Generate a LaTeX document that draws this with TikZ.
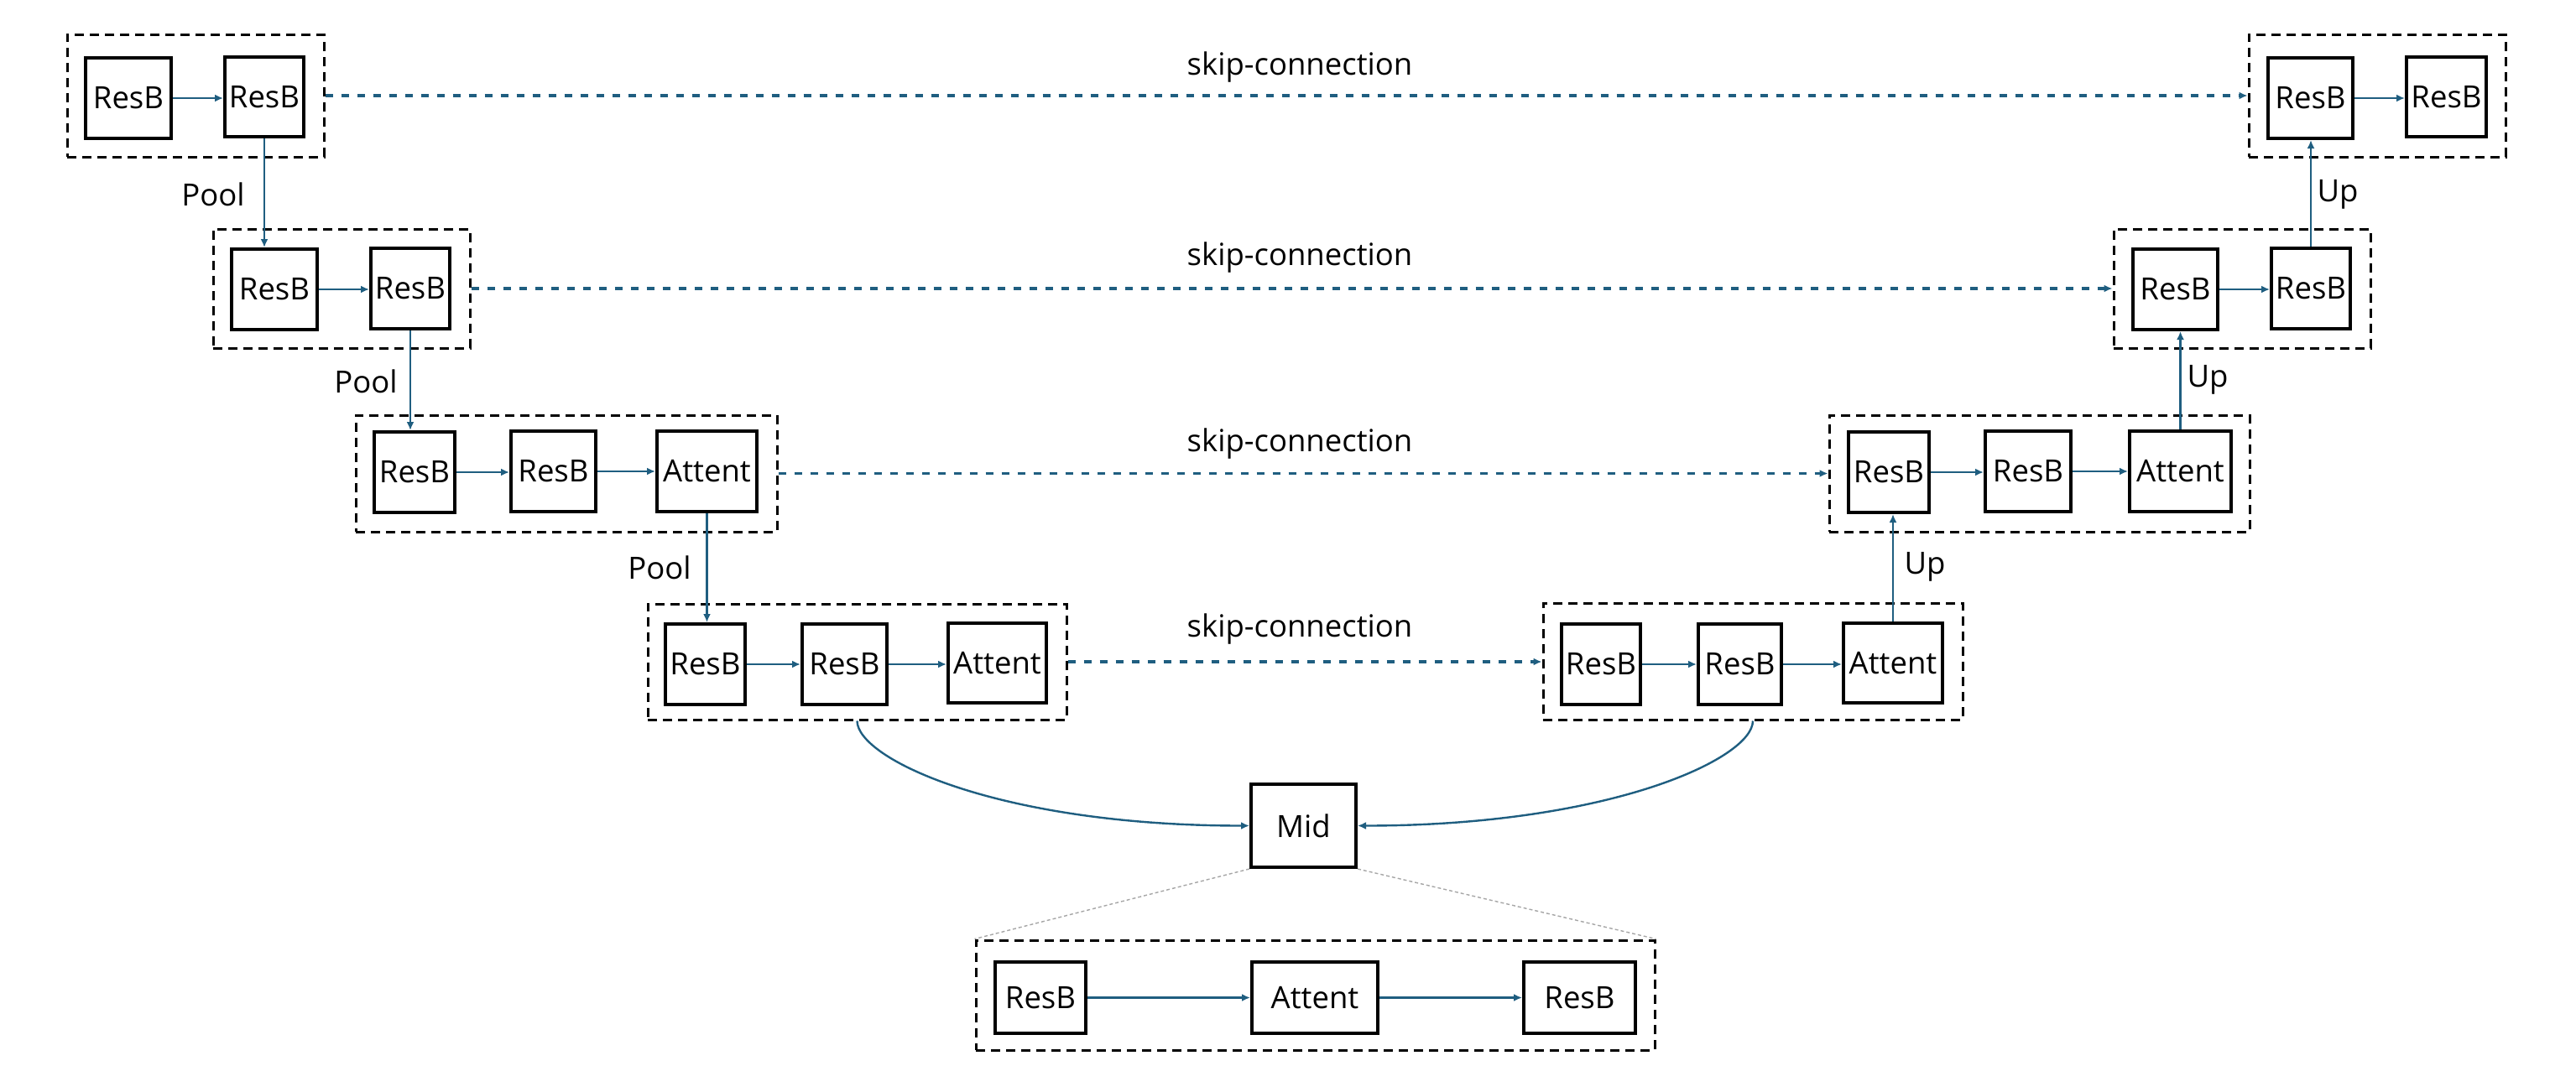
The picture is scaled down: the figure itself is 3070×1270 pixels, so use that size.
\documentclass[tikz,border=0pt]{standalone}
\usepackage{fontspec}
\setmainfont{Open Sans}
\usetikzlibrary{arrows.meta}
\definecolor{myblue}{RGB}{31,94,128}
\tikzset{
 blk/.style={draw=black, line width=2pt, inner sep=0pt, fill=white},
 grp/.style={draw=black, line width=1.5pt, dash pattern=on 5.5pt off 3.5pt, inner sep=0pt},
 arr/.style={draw=myblue, line width=1.2pt, -{Latex[length=5pt,width=4.5pt]}},
 arrb/.style={draw=myblue, line width=1.6pt, -{Latex[length=5pt,width=4.5pt]}},
 skip/.style={draw=myblue, line width=1.7pt, dash pattern=on 4.5pt off 5pt, -{Latex[length=5pt,width=4.5pt]}},
 lbl/.style={inner sep=0pt, anchor=base},
 zoomln/.style={draw=gray!70, line width=0.7pt, dash pattern=on 2pt off 1.5pt}
}
\newcommand{\placebox}[7]{%
  \pgfmathsetmacro\cx{(#3+#5)/2}\pgfmathsetmacro\cy{(#4+#6)/2}%
  \pgfmathsetmacro\ww{(#5-#3)*0.5}\pgfmathsetmacro\hh{(#6-#4)*0.5}%
  \node[#1, minimum width=\ww pt, minimum height=\hh pt] (#2) at (\cx,\cy) {#7};}
\newcommand{\bx}[6]{\placebox{blk}{#1}{#2}{#3}{#4}{#5}{#6}}
\newcommand{\gp}[5]{\placebox{grp}{#1}{#2}{#3}{#4}{#5}{}}
\begin{document}
\begin{tikzpicture}[x=0.5pt,y=-0.5pt,font=\fontsize{18.25}{22}\selectfont]
\useasboundingbox (0,0) rectangle (3070,1270);
% groups
\gp{L1}{80}{41}{386}{187}
\gp{L2}{254}{273}{560}{415}
\gp{L3}{424}{495}{926}{634}
\gp{L4}{772}{720}{1271}{858}
\gp{R1}{2680}{41}{2986}{187}
\gp{R2}{2519}{273}{2825}{415}
\gp{R3}{2180}{495}{2681}{634}
\gp{R4}{1839}{719}{2339}{858}
\gp{B}{1163}{1121}{1972}{1252}
% blocks
\bx{a1}{102}{69}{204}{165}{ResB}
\bx{a2}{268}{68}{362}{163}{ResB}
\bx{b1}{276}{297}{378}{393}{ResB}
\bx{b2}{442}{296}{536}{392}{ResB}
\bx{c1}{446}{515}{542}{611}{ResB}
\bx{c2}{609}{514}{710}{610}{ResB}
\bx{c3}{783}{514}{902}{610}{Attent}
\bx{d1}{793}{744}{888}{840}{ResB}
\bx{d2}{956}{744}{1057}{840}{ResB}
\bx{d3}{1130}{743}{1247}{838}{Attent}
\bx{e1}{1861}{744}{1955}{840}{ResB}
\bx{e2}{2024}{744}{2123}{840}{ResB}
\bx{e3}{2197}{743}{2315}{838}{Attent}
\bx{f1}{2203}{515}{2299}{611}{ResB}
\bx{f2}{2366}{514}{2468}{610}{ResB}
\bx{f3}{2538}{514}{2659}{610}{Attent}
\bx{g1}{2542}{297}{2643}{393}{ResB}
\bx{g2}{2707}{296}{2801}{392}{ResB}
\bx{h1}{2703}{69}{2804}{165}{ResB}
\bx{h2}{2868}{68}{2963}{163}{ResB}
\bx{mid}{1491}{935}{1616}{1034}{Mid}
\bx{m1}{1186}{1147}{1294}{1232}{ResB}
\bx{m2}{1492}{1147}{1642}{1232}{Attent}
\bx{m3}{1816}{1147}{1949}{1232}{ResB}
% inner arrows
\draw[arr] (a1.east) -- (a1.east -| a2.west);
\draw[arr] (b1.east) -- (b1.east -| b2.west);
\draw[arr] (c1.east) -- (c1.east -| c2.west);
\draw[arr] (c2.east) -- (c2.east -| c3.west);
\draw[arr] (d1.east) -- (d1.east -| d2.west);
\draw[arr] (d2.east) -- (d2.east -| d3.west);
\draw[arr] (e1.east) -- (e1.east -| e2.west);
\draw[arr] (e2.east) -- (e2.east -| e3.west);
\draw[arr] (f1.east) -- (f1.east -| f2.west);
\draw[arr] (f2.east) -- (f2.east -| f3.west);
\draw[arr] (g1.east) -- (g1.east -| g2.west);
\draw[arr] (h1.east) -- (h1.east -| h2.west);
\draw[arrb] (m1.east) -- (m1.east -| m2.west);
\draw[arrb] (m2.east) -- (m2.east -| m3.west);
% pool / up
\draw[arr] (a2.south) -- (a2.south |- b1.north);
\draw[arr] (b2.south) -- (b2.south |- c1.north);
\draw[arr] (c3.south) -- (c3.south |- d1.north);
\draw[arr] (e3.north) -- (e3.north |- f1.south);
\draw[arr] (f3.north) -- (f3.north |- g1.south);
\draw[arr] (g2.north) -- (g2.north |- h1.south);
\node[lbl] (p1) at (254,245) {Pool};
\node[lbl] (p2) at (436,468) {Pool};
\node[lbl] (p3) at (786,690) {Pool};
\node[lbl] (u1) at (2786,240) {Up};
\node[lbl] (u2) at (2631,461) {Up};
\node[lbl] (u3) at (2294,684) {Up};
% skip connections
\draw[skip] (L1.east) -- (L1.east -| R1.west);
\draw[skip] (L2.east) -- (L2.east -| R2.west);
\draw[skip] (L3.east) -- (L3.east -| R3.west);
\draw[skip] (L4.east) -- (L4.east -| R4.west);
\node[lbl] (s1) at (1549,89) {skip-connection};
\node[lbl] (s2) at (1549,316) {skip-connection};
\node[lbl] (s3) at (1549,538) {skip-connection};
\node[lbl] (s4) at (1549,759) {skip-connection};
% curves to mid
\draw[arr] (L4.south) .. controls +(0,45) and +(-300,0) .. (mid.west);
\draw[arr] (R4.south) .. controls +(0,45) and +(300,0) .. (mid.east);
% zoom lines
\draw[zoomln] (mid.south west) -- (B.north west);
\draw[zoomln] (mid.south east) -- (B.north east);
\end{tikzpicture}
\end{document}
